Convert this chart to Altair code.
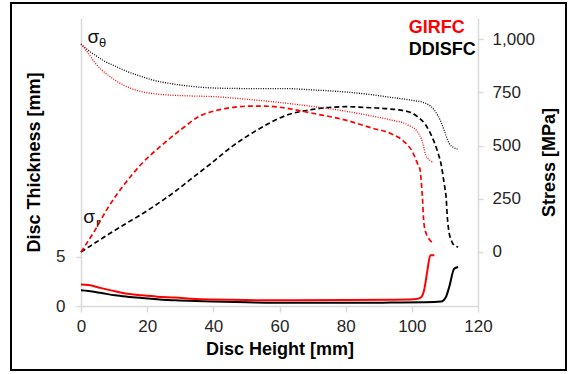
import altair as alt
import pandas as pd

# ---------------- data ----------------
# Stress curves (right axis, MPa) vs disc height (mm)
ddisfc_theta_h = [0, 2, 4.2, 7, 10.3, 14, 18.4, 22, 26.5, 31, 36.6, 45, 55, 62, 70, 80,
                  87.6, 93.6, 99.7, 104.2, 106.8, 108.8, 110.3, 111.3, 112.8, 113.8]
ddisfc_theta_s = [978, 950, 926, 898, 874, 848, 824, 807, 793, 783, 774, 769, 768, 768, 762, 752,
                  740, 727, 714, 699, 667, 612, 549, 510, 490, 483]

girfc_theta_h = [0, 2.2, 4.2, 6.3, 8.3, 10.3, 12.3, 14.3, 16.4, 18.4, 22, 26.5, 32, 40.6, 50, 60,
                 70, 80, 87.6, 93.6, 98.7, 101.7, 103.2, 104.2, 105.2, 105.8, 106.6]
girfc_theta_s = [978, 934, 890, 855, 830, 808, 789, 774, 762, 753, 744, 738, 734, 730, 718, 703,
                 684, 662, 640, 621, 598, 565, 518, 455, 435, 427, 421]

girfc_r_h = [0, 4.2, 8.3, 13.3, 18.4, 24.4, 30, 36, 40.6, 46, 52, 57, 62, 70, 80, 87.6, 93.6,
             97.7, 100.2, 101.7, 102.5, 103.0, 103.3, 103.5, 103.8, 104.3, 104.8, 105.8, 106.7]
girfc_r_s = [0, 102, 212, 322, 416, 502, 573, 640, 664, 680, 686, 685, 676, 652, 620, 584, 557,
             518, 471, 416, 385, 300, 230, 165, 118, 88, 71, 50, 44]

ddisfc_r_h = [0, 4, 8.3, 13, 18.4, 23, 28.5, 33, 36, 39.6, 46, 51, 56, 62, 70, 80, 87.6, 93.6, 99.7,
              101.7, 104.2, 106.3, 107.8, 109, 109.5, 110, 110.4, 110.7, 111, 111.3, 111.8, 112.8, 114]
ddisfc_r_s = [0, 40, 83, 128, 178, 225, 285, 340, 376, 420, 500, 552, 598, 642, 670, 683, 678, 672,
              656, 636, 597, 534, 471, 400, 350, 300, 250, 170, 120, 87, 60, 31, 24]

# Disc thickness curves (left axis, mm) vs disc height (mm)
girfc_t_h = [0, 2.2, 5.8, 10.3, 14, 18.4, 23, 28.5, 34.5, 40, 50, 63, 80, 93.6, 100.6, 102.7,
             103.7, 104.6, 105.6, 106.8]
girfc_t_v = [2.18, 2.15, 1.85, 1.5, 1.25, 1.09, 0.95, 0.86, 0.72, 0.66, 0.6, 0.58, 0.6, 0.63, 0.68,
             0.86, 1.6, 3.4, 5.17, 5.17]

ddisfc_t_h = [0, 2.2, 5.8, 10.3, 14, 18.4, 23, 28.5, 34.5, 40, 50, 63, 80, 93.6, 104, 108.8,
              110.3, 111.3, 112.8, 114]
ddisfc_t_v = [1.6, 1.53, 1.35, 1.09, 0.95, 0.82, 0.7, 0.58, 0.5, 0.45, 0.38, 0.32, 0.32, 0.35, 0.38,
              0.45, 0.92, 1.94, 3.8, 3.98]

designs = ["GIRFC", "DDISFC"]
design_colors = ["#ff0000", "#000000"]
x_ticks = [0, 20, 40, 60, 80, 100, 120]
thick_ticks = [0, 5]
stress_ticks = [0, 250, 500, 750, 1000]

# annotation texts
legend_labels = ["GIRFC", "DDISFC"]
legend_h = [99.1, 99.1]
legend_s = [1030, 926]
sigma_h = [2.0, 0.7]
sigma_s = [981, 134]
sub_labels = ["θ", "r"]
sub_h = [5.45, 4.5]
sub_s = [962, 118]

# ---------------- build tables ----------------
def rows(design, comp, hs, vs, key):
    return [{"design": design, "comp": comp, "series": design + comp, "h": a, key: b}
            for a, b in zip(hs, vs)]

stress_df = pd.DataFrame(
    rows("DDISFC", "theta", ddisfc_theta_h, ddisfc_theta_s, "s")
    + rows("GIRFC", "theta", girfc_theta_h, girfc_theta_s, "s")
    + rows("DDISFC", "r", ddisfc_r_h, ddisfc_r_s, "s")
    + rows("GIRFC", "r", girfc_r_h, girfc_r_s, "s")
)
thick_df = pd.DataFrame(
    rows("DDISFC", "t", ddisfc_t_h, ddisfc_t_v, "t")
    + rows("GIRFC", "t", girfc_t_h, girfc_t_v, "t")
)
legend_df = pd.DataFrame({"label": legend_labels, "h": legend_h, "s": legend_s, "design": designs})
sigma_df = pd.DataFrame({"label": ["σ", "σ"], "h": sigma_h, "s": sigma_s})
sub_df = pd.DataFrame({"label": sub_labels, "h": sub_h, "s": sub_s})
frame_df = pd.DataFrame({"a": [0]})

FONT = "Liberation Sans"
AX_GRAY = "#d9d9d9"
LBL = "#262626"

x_enc = alt.X(
    "h:Q",
    scale=alt.Scale(domain=[0, 120], nice=False, zero=False),
    axis=alt.Axis(values=x_ticks, title="Disc Height [mm]", grid=False, labelFlush=False,
                  domainColor=AX_GRAY, domainWidth=1.5, tickColor=AX_GRAY, tickWidth=1.5,
                  tickSize=6, labelFontSize=17, labelPadding=6, labelColor=LBL, labelFont=FONT,
                  titleFontSize=18, titleFontWeight="bold", titleColor="#000", titleFont=FONT,
                  titlePadding=6),
)

y_stress = alt.Y(
    "s:Q",
    scale=alt.Scale(domain=[-254, 1100], nice=False, zero=False),
    axis=alt.Axis(orient="right", values=stress_ticks, labelFlush=False,
                  labelExpr="format(datum.value, ',')", title="Stress [MPa]",
                  grid=False, domainColor=AX_GRAY, domainWidth=1.5, tickColor=AX_GRAY,
                  tickWidth=1.5, tickSize=5, labelFontSize=17, labelPadding=9, labelColor=LBL,
                  labelFont=FONT, titleFontSize=18, titleFontWeight="bold", titleColor="#000",
                  titleFont=FONT, titleAngle=270, titleBaseline="top", titlePadding=6),
)

y_thick = alt.Y(
    "t:Q",
    scale=alt.Scale(domain=[0, 29.36], nice=False, zero=False),
    axis=alt.Axis(orient="left", values=thick_ticks, title="Disc Thickness [mm]", grid=False,
                  labelFlush=False,
                  domainColor=AX_GRAY, domainWidth=1.5, tickColor=AX_GRAY, tickWidth=1.5,
                  tickSize=5, labelFontSize=17, labelPadding=11, labelColor=LBL, labelFont=FONT,
                  titleFontSize=18, titleFontWeight="bold", titleColor="#000", titleFont=FONT,
                  titlePadding=12),
)

color_enc = alt.Color("design:N", scale=alt.Scale(domain=designs, range=design_colors), legend=None)

thick = alt.Chart(thick_df).mark_line(interpolate="monotone", strokeWidth=2).encode(
    x=x_enc, y=y_thick, color=color_enc, detail="series:N"
)

stress_lines = alt.Chart(stress_df).mark_line(interpolate="monotone").encode(
    x=x_enc,
    y=y_stress,
    color=color_enc,
    strokeDash=alt.StrokeDash("comp:N", scale=alt.Scale(domain=["theta", "r"],
                                                        range=[[1, 1.4], [5, 3]]), legend=None),
    strokeWidth=alt.StrokeWidth("comp:N", scale=alt.Scale(domain=["theta", "r"],
                                                          range=[1.3, 1.7]), legend=None),
    detail="series:N",
)

legend_text = alt.Chart(legend_df).mark_text(
    align="left", baseline="alphabetic", fontSize=18, fontWeight="bold", font=FONT
).encode(x=x_enc, y=y_stress, text="label:N", color=color_enc)

sigma_text = alt.Chart(sigma_df).mark_text(
    align="left", baseline="alphabetic", fontSize=19, font=FONT, color="#111"
).encode(x=x_enc, y=y_stress, text="label:N")

sub_text = alt.Chart(sub_df).mark_text(
    align="left", baseline="alphabetic", fontSize=13, font=FONT, color="#111"
).encode(x=x_enc, y=y_stress, text="label:N")

frame = alt.Chart(frame_df).mark_rect(fillOpacity=0, stroke="#000", strokeWidth=2).encode(
    x=alt.value(-70), x2=alt.value(485), y=alt.value(-15), y2=alt.value(352)
)

stress_layer = alt.layer(stress_lines, legend_text, sigma_text, sub_text, frame)

chart = (
    alt.layer(thick, stress_layer)
    .resolve_scale(y="independent")
    .properties(
        width=397,
        height=288,
        padding={"left": 81, "top": 18, "right": 91, "bottom": 68},
        autosize=alt.AutoSizeParams(type="none"),
        background="white",
    )
    .configure_view(stroke=None)
)

chart.save("out.html", embed_options={"renderer": "svg", "actions": False})
